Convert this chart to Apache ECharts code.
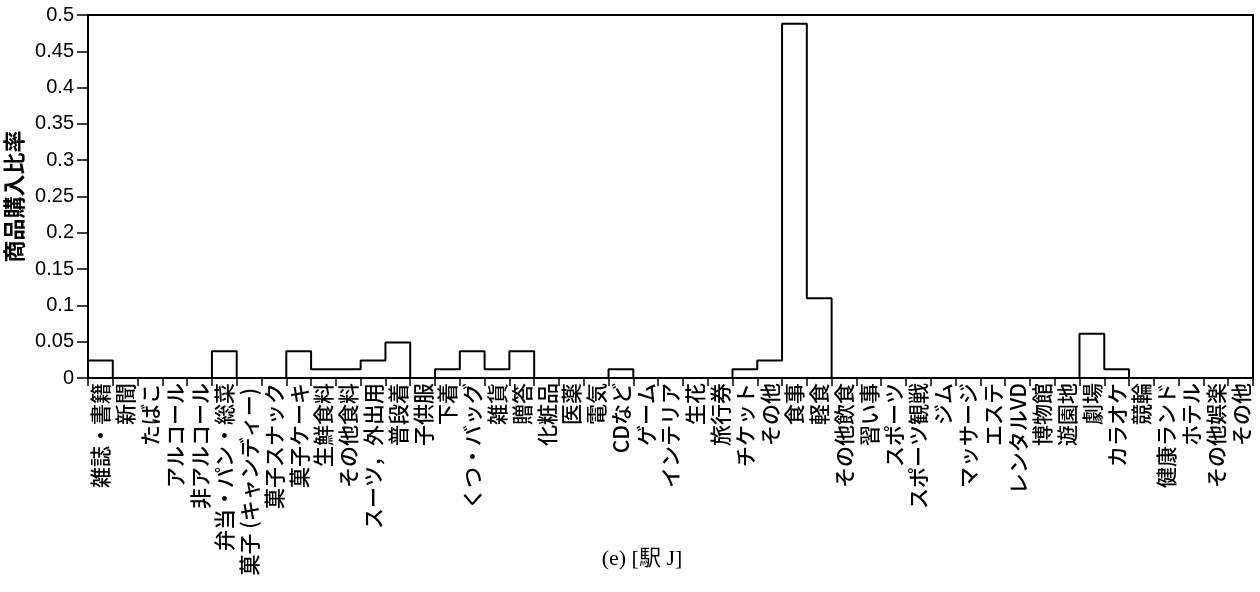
<!DOCTYPE html>
<html>
<head>
<meta charset="utf-8">
<script src="https://cdn.jsdelivr.net/npm/echarts@6/dist/echarts.min.js"></script>
<style>
  html, body { margin: 0; padding: 0; background: #fff; }
  #chart { width: 1260px; height: 592px; }
</style>
</head>
<body>
<div id="chart"></div>
<script>
// Purchase-category names along the horizontal axis
var categories = ['雑誌・書籍','新聞','たばこ','アルコール','非アルコール','弁当・パン・総菜',
  '菓子 (キャンディー) ','菓子スナック','菓子ケーキ','生鮮食料','その他食料','スーツ，外出用',
  '普段着','子供服','下着','くつ・バッグ','雑貨','贈答','化粧品','医薬','電気','CDなど',
  'ゲーム','インテリア','生花','旅行券','チケット','その他','食事','軽食','その他飲食',
  '習い事','スポーツ','スポーツ観戦','ジム','マッサージ','エステ','レンタルVD','博物館',
  '遊園地','劇場','カラオケ','競輪','健康ランド','ホテル','その他娯楽','その他'];

// Purchase ratio for each category
var ratios = [0.024,0,0,0,0,0.037,0,0,0.037,0.012,0.012,0.024,0.049,0,0.012,0.037,0.012,0.037,
  0,0,0,0.012,0,0,0,0,0.012,0.024,0.488,0.11,0,0,0,0,0,0,0,0,0,0,0.061,0.012,0,0,0,0,0];

// Y-axis tick settings
var yMin = 0, yMax = 0.5, yStep = 0.05;

var yName = '商品購入比率';
var caption = '(e) [駅 J]';

// Outline of the histogram: one flat step per category, closed down to zero at both ends
var outline = [[0, 0]];
ratios.forEach(function (v, i) {
  outline.push([i, v]);
  outline.push([i + 1, v]);
});
outline.push([ratios.length, 0]);

var chart = echarts.init(document.getElementById('chart'), null, { renderer: 'canvas' });

chart.setOption({
  backgroundColor: '#fff',
  animation: false,
  title: {
    text: caption,
    left: 637,
    textAlign: 'center',
    top: 543,
    textStyle: { fontFamily: '"Liberation Serif", "Noto Sans CJK JP", serif', fontSize: 22, fontWeight: 'normal', color: '#000' }
  },
  grid: {
    left: 88, right: 7, top: 15, bottom: 214,
    containLabel: false,
    outerBoundsMode: 'none',
    show: true, borderColor: '#000', borderWidth: 2, backgroundColor: 'transparent'
  },
  xAxis: [{
    type: 'category',
    data: categories,
    boundaryGap: true,
    position: 'bottom',
    axisLine: { show: true, lineStyle: { color: '#000', width: 2 } },
    axisTick: { show: true, length: 8, alignWithLabel: false, interval: 0, lineStyle: { color: '#000', width: 1.5 } },
    axisLabel: {
      interval: 0, rotate: 90, margin: 5,
      fontFamily: '"Noto Sans CJK JP", sans-serif', fontSize: 21, fontWeight: 500, color: '#000'
    },
    splitLine: { show: false }
  }, {
    type: 'value',
    min: 0, max: ratios.length,
    show: false
  }],
  yAxis: {
    type: 'value',
    min: yMin, max: yMax, interval: yStep,
    name: yName,
    nameLocation: 'middle',
    nameRotate: 90,
    nameGap: 55,
    nameTextStyle: { fontFamily: '"Noto Sans CJK JP", sans-serif', fontSize: 22, fontWeight: 'bold', color: '#000' },
    axisLine: { show: true, lineStyle: { color: '#000', width: 2 } },
    axisTick: { show: true, inside: false, length: 11, lineStyle: { color: '#000', width: 1.5 } },
    axisLabel: {
      margin: 14,
      fontFamily: '"Liberation Sans", Arial, sans-serif', fontSize: 20, color: '#000',
      formatter: function (v) { return String(Math.round(v * 100) / 100); }
    },
    splitLine: { show: false }
  },
  series: [{
    type: 'line',
    xAxisIndex: 1,
    data: outline,
    symbol: 'none',
    lineStyle: { color: '#000', width: 2 },
    clip: false
  }]
});
</script>
</body>
</html>
